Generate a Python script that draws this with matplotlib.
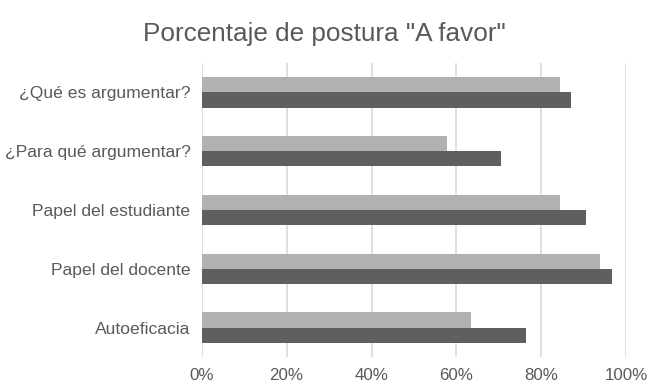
import matplotlib
matplotlib.use("Agg")
import matplotlib.pyplot as plt
import numpy as np

categories = ["¿Qué es argumentar?", "¿Para qué argumentar?", "Papel del estudiante",
              "Papel del docente", "Autoeficacia"]
series_light = [84.4, 57.8, 84.4, 93.9, 63.4]
series_dark = [87.0, 70.6, 90.5, 96.6, 76.4]
xticks = [0, 20, 40, 60, 80, 100]
xtick_labels = ["0%", "20%", "40%", "60%", "80%", "100%"]
title = 'Porcentaje de postura "A favor"'

plt.rcParams['font.family'] = ['Liberation Sans', 'DejaVu Sans']
text_color = "#595959"

fig = plt.figure(figsize=(6.49, 3.83), dpi=100)
ax = fig.add_axes([0.3108, 0.0679, 0.6542, 0.7676])

y = np.arange(len(categories))
h = 0.26
ax.barh(y - h / 2, series_light, height=h, color="#b1b1b1", zorder=3)
ax.barh(y + h / 2, series_dark, height=h, color="#5f5f5f", zorder=3)

ax.set_ylim(len(categories) - 0.5, -0.5)
ax.set_xlim(0, 100)
ax.set_xticks(xticks)
ax.set_xticklabels(xtick_labels)
ax.set_yticks(y)
ax.set_yticklabels(categories)
ax.tick_params(axis='both', length=0, colors=text_color)
ax.tick_params(axis='x', pad=8, labelsize=12.2)
ax.tick_params(axis='y', pad=8, labelsize=12.6)
ax.grid(axis='x', color="#d9d9d9", linewidth=1.2, zorder=0)
for s in ax.spines.values():
    s.set_visible(False)

fig.text(0.5, 0.912, title, ha='center', va='center', fontsize=18.8, color=text_color)

fig.savefig("out.png", dpi=100)
